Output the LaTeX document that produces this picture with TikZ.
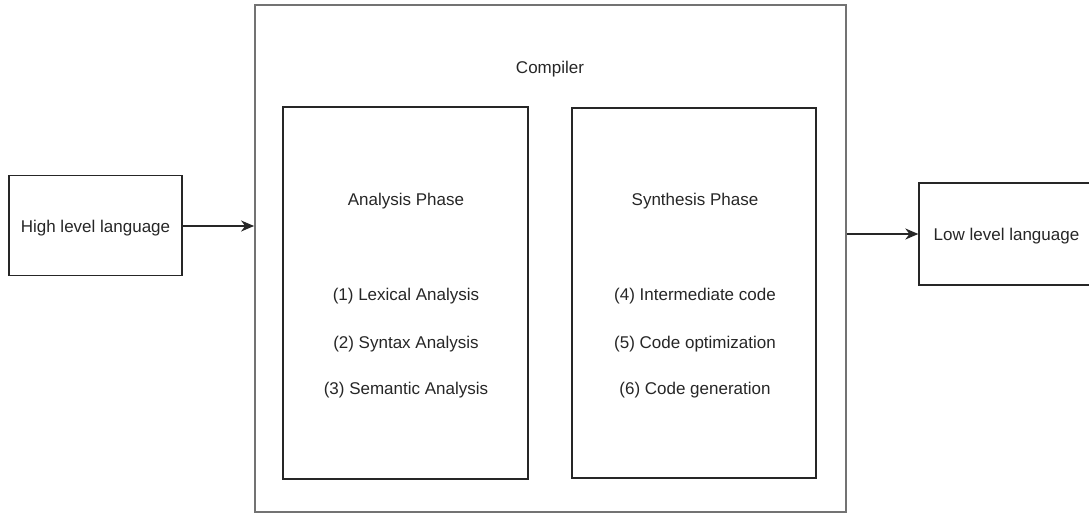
\documentclass[tikz,border=0pt]{standalone}
\usepackage{fontspec}
\setmainfont{Liberation Sans}
\usetikzlibrary{arrows.meta}
\begin{document}
\begin{tikzpicture}[x=1pt,y=-1pt,
  every node/.style={font=\fontsize{17}{20}\selectfont, text=black!85, inner sep=0pt},
  frame/.style={draw=black!85, line width=1.3pt, rectangle},
  outer/.style={draw=black!55, line width=1.8pt, rectangle},
  flow/.style={draw=black!85, line width=1.5pt, -{Stealth[length=13pt,width=11pt,inset=4pt]}}]
  \useasboundingbox (0,0) rectangle (1089,513);
  \begin{scope}
    \clip (0,0) rectangle (1089,513);
    % outer compiler frame and its two phases
    \node[outer, minimum width=591pt, minimum height=507pt] (comp) at (550.5,258.5) {};
    \node (comptitle) at (550,69) {Compiler};
    \node[frame, minimum width=245pt, minimum height=372pt] (ana) at (405.5,293) {};
    \node[frame, minimum width=244pt, minimum height=370pt] (syn) at (694,293) {};
    % analysis phase texts
    \node (anat) at (406,201) {Analysis Phase};
    \node (a1) at (406,296) {(1) Lexical Analysis};
    \node (a2) at (406,344) {(2) Syntax Analysis};
    \node (a3) at (406,390) {(3) Semantic Analysis};
    % synthesis phase texts
    \node (synt) at (695,201) {Synthesis Phase};
    \node (s1) at (695,296) {(4) Intermediate code};
    \node (s2) at (695,344) {(5) Code optimization};
    \node (s3) at (695,390) {(6) Code generation};
    % source and target languages
    \node[frame, minimum width=173pt, minimum height=100pt] (hl) at (95.5,225.5) {};
    \node (hlt) at (95.5,228) {High level language};
    \node[frame, minimum width=175pt, minimum height=102pt] (ll) at (1006.5,234) {};
    \node (llt) at (1006.5,236) {Low level language};
    % level of the input arrow
    \coordinate (inlevel) at (0,226);
    % connectors
    \draw[flow] (hl.east |- inlevel) -- (comp.west |- inlevel);
    \draw[flow] (comp.east |- ll.west) -- (ll.west);
  \end{scope}
\end{tikzpicture}
\end{document}
